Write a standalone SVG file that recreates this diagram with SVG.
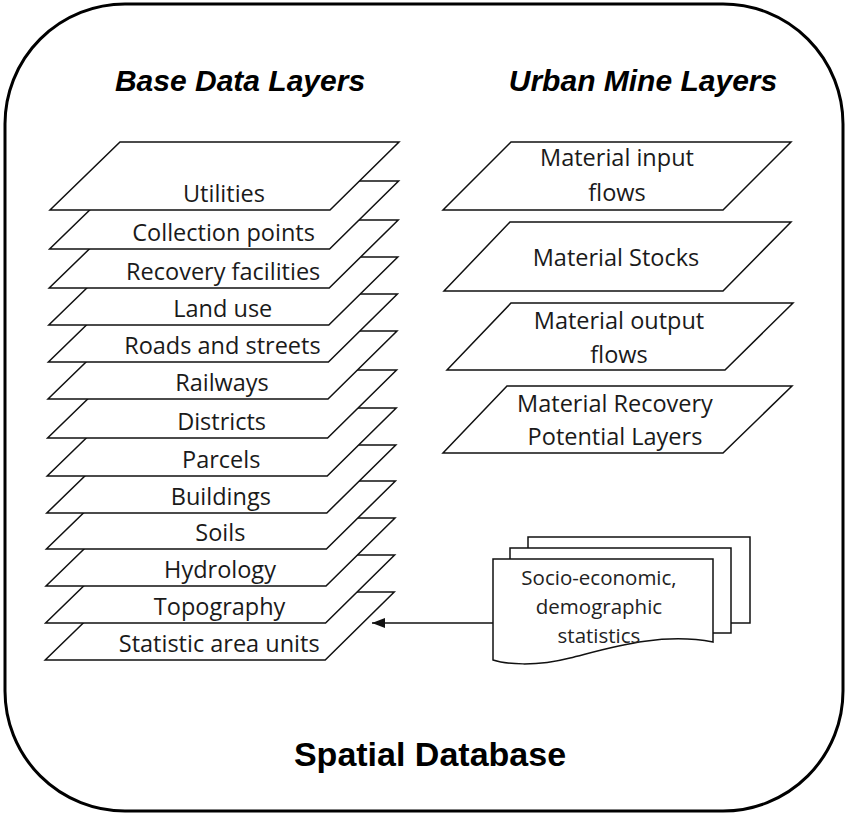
<svg xmlns="http://www.w3.org/2000/svg" width="850" height="815" viewBox="0 0 850 815">
<style>
.frame{fill:#fff;stroke:#000;stroke-width:3}
.ly{fill:#fff;stroke:#111;stroke-width:1.5;stroke-linejoin:miter}
.doc{fill:#fff;stroke:#111;stroke-width:1.5}
.t{font-family:"Open Sans","Liberation Sans",sans-serif;font-size:23.5px;fill:#1a1a1a;text-anchor:middle}
.td{font-family:"Open Sans","Liberation Sans",sans-serif;font-size:20.5px;fill:#222;text-anchor:middle}
.h{font-family:"Liberation Sans",Arial,sans-serif;font-size:30px;font-weight:bold;font-style:italic;fill:#000;text-anchor:middle}
.big{font-family:"Liberation Sans",Arial,sans-serif;font-size:34px;font-weight:bold;fill:#000;text-anchor:middle}
.conn{stroke:#111;stroke-width:1.5;fill:none}
</style>
<defs>
<marker id="arr" viewBox="0 0 10 10" refX="10" refY="5" markerWidth="13" markerHeight="10" markerUnits="userSpaceOnUse" orient="auto" preserveAspectRatio="none">
<path d="M0,0 L10,5 L0,10 Z" fill="#111"/>
</marker>
</defs>
<rect class="frame" x="5" y="4" width="838" height="807" rx="120" ry="120"/>
<text class="h" x="240" y="91">Base Data Layers</text>
<text class="h" x="643" y="91">Urban Mine Layers</text>
<text class="big" x="430" y="766">Spatial Database</text>

<g id="base-layers">
<g id="layer-statistic"><polygon class="ly" points="115.2,592 394.2,592 325.2,660 45.2,660"/><text class="t" x="219.2" y="652">Statistic area units</text></g>
<g id="layer-topography"><polygon class="ly" points="115.6,555 394.6,555 325.6,623 45.6,623"/><text class="t" x="219.6" y="615">Topography</text></g>
<g id="layer-hydrology"><polygon class="ly" points="116,518 395,518 326,586 46,586"/><text class="t" x="220" y="578">Hydrology</text></g>
<g id="layer-soils"><polygon class="ly" points="116.4,481 395.4,481 326.4,549 46.4,549"/><text class="t" x="220.4" y="541">Soils</text></g>
<g id="layer-buildings"><polygon class="ly" points="116.8,445 395.8,445 326.8,513 46.8,513"/><text class="t" x="220.8" y="505">Buildings</text></g>
<g id="layer-parcels"><polygon class="ly" points="117.2,408 396.2,408 327.2,476 47.2,476"/><text class="t" x="221.2" y="468">Parcels</text></g>
<g id="layer-districts"><polygon class="ly" points="117.6,370 396.6,370 327.6,438 47.6,438"/><text class="t" x="221.6" y="430">Districts</text></g>
<g id="layer-railways"><polygon class="ly" points="118,331 397,331 328,399 48,399"/><text class="t" x="222" y="391">Railways</text></g>
<g id="layer-roads"><polygon class="ly" points="118.4,294 397.4,294 328.4,362 48.4,362"/><text class="t" x="222.4" y="354">Roads and streets</text></g>
<g id="layer-landuse"><polygon class="ly" points="118.8,257 397.8,257 328.8,325 48.8,325"/><text class="t" x="222.8" y="317">Land use</text></g>
<g id="layer-recovery"><polygon class="ly" points="119.2,220 398.2,220 329.2,288 49.2,288"/><text class="t" x="223.2" y="280">Recovery facilities</text></g>
<g id="layer-collection"><polygon class="ly" points="119.6,181 398.6,181 329.6,249 49.6,249"/><text class="t" x="223.6" y="241">Collection points</text></g>
<g id="layer-utilities"><polygon class="ly" points="120,142 399,142 330,210 50,210"/><text class="t" x="224" y="202">Utilities</text></g>
</g>

<g id="urban-mine-layers">
<g id="um-input"><polygon class="ly" points="511,142 791,142 723,210 443,210"/><text class="t" x="617" y="166">Material input</text><text class="t" x="617" y="201">flows</text></g>
<g id="um-stocks"><polygon class="ly" points="510,222 791,222 723,291 444,291"/><text class="t" x="616" y="266">Material Stocks</text></g>
<g id="um-output"><polygon class="ly" points="511,303 793,303 725,370 447,370"/><text class="t" x="619" y="329">Material output</text><text class="t" x="619" y="363">flows</text></g>
<g id="um-recovery"><polygon class="ly" points="507,386 792,386 723,453 443,453"/><text class="t" x="615" y="412">Material Recovery</text><text class="t" x="615" y="445">Potential Layers</text></g>
</g>

<g id="stats-doc">
<rect class="doc" x="528" y="537" width="222" height="86"/>
<rect class="doc" x="510" y="548" width="221" height="85"/>
<path class="doc" d="M493,559 H713 V642 C660,632 610,648 570,658 C535,667 505,664 493,660 Z"/>
<text class="td" x="599" y="585">Socio-economic,</text>
<text class="td" x="599" y="614">demographic</text>
<text class="td" x="599" y="643">statistics</text>
</g>

<g id="connectors">
<line class="conn" x1="493" y1="623" x2="372" y2="623" marker-end="url(#arr)"/>
</g>
</svg>
